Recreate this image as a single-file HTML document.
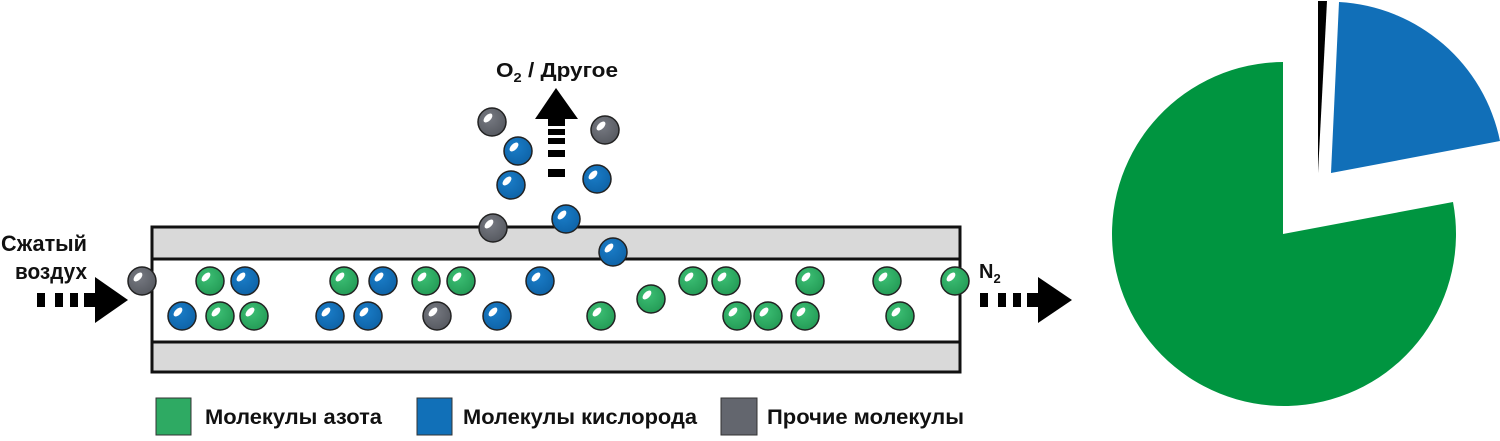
<!DOCTYPE html>
<html><head><meta charset="utf-8"><style>
body{margin:0;background:#fff;width:1500px;height:436px;overflow:hidden}
svg text{font-family:"Liberation Sans",sans-serif;font-weight:bold;fill:#111}
</style></head><body>
<svg width="1500" height="436" viewBox="0 0 1500 436" xmlns="http://www.w3.org/2000/svg">
<defs>
<radialGradient id="g" cx="0.4" cy="0.35" r="0.7"><stop offset="0" stop-color="#3cbf74"/><stop offset="1" stop-color="#239a55"/></radialGradient>
<radialGradient id="b" cx="0.4" cy="0.35" r="0.7"><stop offset="0" stop-color="#1a7dc8"/><stop offset="1" stop-color="#0e62a6"/></radialGradient>
<radialGradient id="k" cx="0.4" cy="0.35" r="0.7"><stop offset="0" stop-color="#777a82"/><stop offset="1" stop-color="#55585f"/></radialGradient>
<g id="hl"><ellipse cx="-4" cy="-4" rx="5.5" ry="3" transform="rotate(-45 -4 -4)" fill="#fff"/></g>
</defs>
<rect x="152" y="227" width="808" height="145" fill="#d9d9d9" stroke="#111" stroke-width="3"/>
<rect x="152" y="259" width="808" height="83" fill="#fff" stroke="#111" stroke-width="3"/>
<g stroke="#222" stroke-width="1.5">
<circle cx="142" cy="281" r="14" fill="url(#k)"/>
<circle cx="210" cy="281" r="14" fill="url(#g)"/>
<circle cx="245" cy="281" r="14" fill="url(#b)"/>
<circle cx="344" cy="281" r="14" fill="url(#g)"/>
<circle cx="383" cy="281" r="14" fill="url(#b)"/>
<circle cx="426" cy="281" r="14" fill="url(#g)"/>
<circle cx="461" cy="281" r="14" fill="url(#g)"/>
<circle cx="540" cy="281" r="14" fill="url(#b)"/>
<circle cx="693" cy="281" r="14" fill="url(#g)"/>
<circle cx="726" cy="281" r="14" fill="url(#g)"/>
<circle cx="810" cy="281" r="14" fill="url(#g)"/>
<circle cx="887" cy="281" r="14" fill="url(#g)"/>
<circle cx="955" cy="281" r="14" fill="url(#g)"/>
<circle cx="182" cy="316" r="14" fill="url(#b)"/>
<circle cx="220" cy="316" r="14" fill="url(#g)"/>
<circle cx="254" cy="316" r="14" fill="url(#g)"/>
<circle cx="330" cy="316" r="14" fill="url(#b)"/>
<circle cx="368" cy="316" r="14" fill="url(#b)"/>
<circle cx="437" cy="316" r="14" fill="url(#k)"/>
<circle cx="497" cy="316" r="14" fill="url(#b)"/>
<circle cx="601" cy="316" r="14" fill="url(#g)"/>
<circle cx="651" cy="299" r="14" fill="url(#g)"/>
<circle cx="737" cy="316" r="14" fill="url(#g)"/>
<circle cx="768" cy="316" r="14" fill="url(#g)"/>
<circle cx="805" cy="316" r="14" fill="url(#g)"/>
<circle cx="900" cy="316" r="14" fill="url(#g)"/>
<circle cx="492" cy="122" r="14" fill="url(#k)"/>
<circle cx="518" cy="151" r="14" fill="url(#b)"/>
<circle cx="511" cy="185" r="14" fill="url(#b)"/>
<circle cx="605" cy="130" r="14" fill="url(#k)"/>
<circle cx="597" cy="179" r="14" fill="url(#b)"/>
<circle cx="493" cy="228" r="14" fill="url(#k)"/>
<circle cx="566" cy="219" r="14" fill="url(#b)"/>
<circle cx="613" cy="252" r="14" fill="url(#b)"/>
</g>
<g>
<use href="#hl" x="142" y="281"/><use href="#hl" x="210" y="281"/><use href="#hl" x="245" y="281"/><use href="#hl" x="344" y="281"/><use href="#hl" x="383" y="281"/><use href="#hl" x="426" y="281"/><use href="#hl" x="461" y="281"/><use href="#hl" x="540" y="281"/><use href="#hl" x="693" y="281"/><use href="#hl" x="726" y="281"/><use href="#hl" x="810" y="281"/><use href="#hl" x="887" y="281"/><use href="#hl" x="955" y="281"/>
<use href="#hl" x="182" y="316"/><use href="#hl" x="220" y="316"/><use href="#hl" x="254" y="316"/><use href="#hl" x="330" y="316"/><use href="#hl" x="368" y="316"/><use href="#hl" x="437" y="316"/><use href="#hl" x="497" y="316"/><use href="#hl" x="601" y="316"/><use href="#hl" x="651" y="299"/><use href="#hl" x="737" y="316"/><use href="#hl" x="768" y="316"/><use href="#hl" x="805" y="316"/><use href="#hl" x="900" y="316"/>
<use href="#hl" x="492" y="122"/><use href="#hl" x="518" y="151"/><use href="#hl" x="511" y="185"/><use href="#hl" x="605" y="130"/><use href="#hl" x="597" y="179"/><use href="#hl" x="493" y="228"/><use href="#hl" x="566" y="219"/><use href="#hl" x="613" y="252"/>
</g>
<g fill="#000">
<rect x="37" y="293" width="8" height="14"/><rect x="55" y="293" width="8" height="14"/><rect x="70" y="293" width="8" height="14"/><rect x="84" y="293" width="12" height="14"/>
<polygon points="95,277 128,300 95,323"/>
<rect x="980" y="293" width="8" height="14"/><rect x="998" y="293" width="8" height="14"/><rect x="1013" y="293" width="8" height="14"/><rect x="1027" y="293" width="12" height="14"/>
<polygon points="1038,277 1072,300 1038,323"/>
<polygon points="556,88 578,119 535,119"/>
<rect x="548" y="119" width="17" height="7"/><rect x="548" y="129" width="17" height="6"/><rect x="548" y="138" width="17" height="6"/><rect x="548" y="150" width="17" height="7"/><rect x="548" y="169" width="17" height="8"/>
</g>
<text x="1" y="251" font-size="22" textLength="86" lengthAdjust="spacingAndGlyphs">Сжатый</text>
<text x="15" y="279" font-size="22" textLength="72" lengthAdjust="spacingAndGlyphs">воздух</text>
<text x="979" y="278" font-size="20">N<tspan font-size="13" dy="5">2</tspan></text>
<text x="496" y="77" font-size="20" textLength="122" lengthAdjust="spacingAndGlyphs">O<tspan font-size="13" dy="5">2</tspan><tspan dy="-5"> / Другое</tspan></text>
<rect x="156" y="398" width="35" height="37" fill="#2eaa63" stroke="#333"/>
<text x="205" y="424" font-size="21" textLength="177" lengthAdjust="spacingAndGlyphs">Молекулы азота</text>
<rect x="417" y="398" width="35" height="37" fill="#1170b8" stroke="#333"/>
<text x="463" y="424" font-size="21" textLength="234" lengthAdjust="spacingAndGlyphs">Молекулы кислорода</text>
<rect x="721" y="398" width="36" height="37" fill="#63666e" stroke="#333"/>
<text x="767" y="424" font-size="21" textLength="197" lengthAdjust="spacingAndGlyphs">Прочие молекулы</text>
<path d="M1283,234 L1283,62 A172,172 0 1 0 1453,202 Z" fill="#009540"/>
<path d="M1331,173 L1339,2 A174,174 0 0 1 1500,141 Z" fill="#116fb8"/>
<path d="M1318,173 L1318,1 L1327,1 Z" fill="#000"/>
</svg>
</body></html>
